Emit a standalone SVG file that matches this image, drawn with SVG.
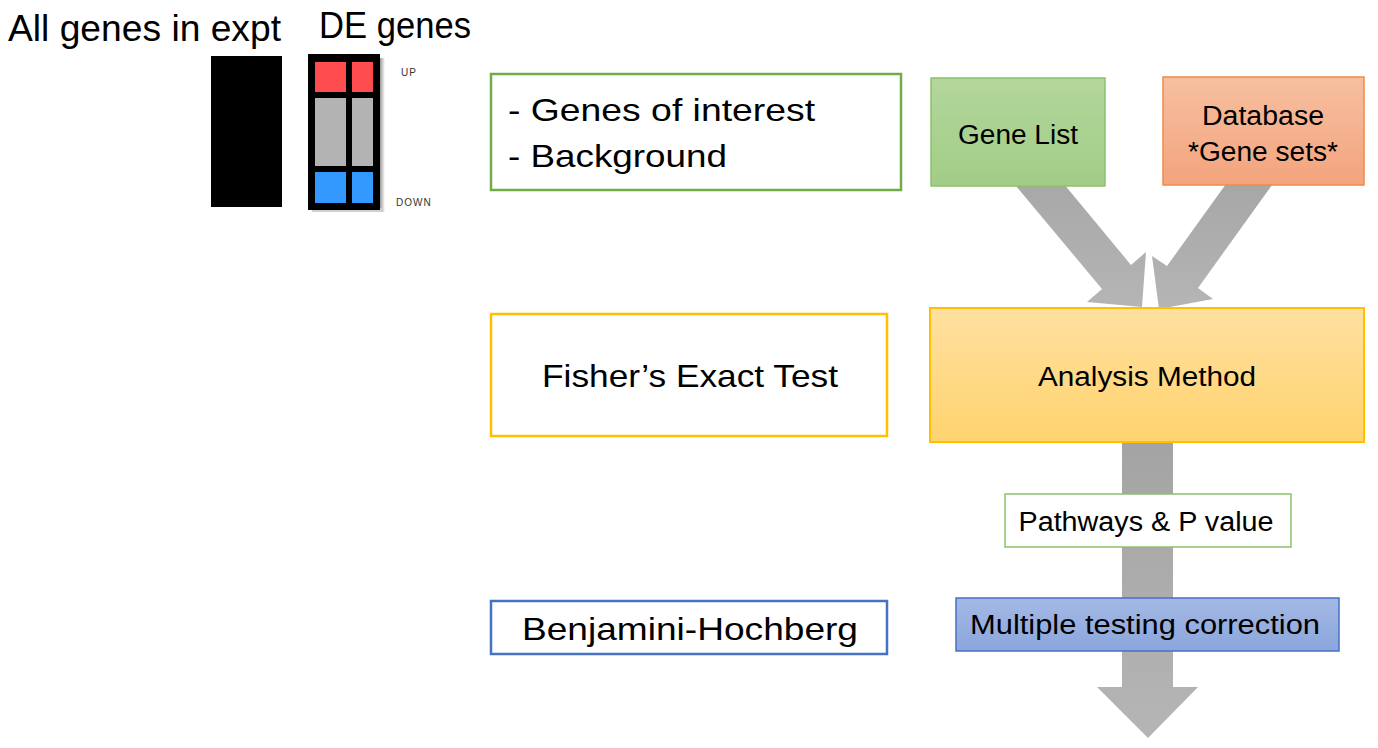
<svg xmlns="http://www.w3.org/2000/svg" width="1378" height="748" viewBox="0 0 1378 748">
<defs>
<linearGradient id="gGreen" x1="0" y1="0" x2="0" y2="1"><stop offset="0" stop-color="#b3d69c"/><stop offset="1" stop-color="#a2cd86"/></linearGradient>
<linearGradient id="gOrange" x1="0" y1="0" x2="0" y2="1"><stop offset="0" stop-color="#f7bfa0"/><stop offset="1" stop-color="#f3a47d"/></linearGradient>
<linearGradient id="gYellow" x1="0" y1="0" x2="0" y2="1"><stop offset="0" stop-color="#ffe0a0"/><stop offset="1" stop-color="#ffd36e"/></linearGradient>
<linearGradient id="gBlue" x1="0" y1="0" x2="0" y2="1"><stop offset="0" stop-color="#a4b9e4"/><stop offset="1" stop-color="#8ba6dc"/></linearGradient>
<linearGradient id="gGray" x1="0" y1="0" x2="0" y2="1"><stop offset="0" stop-color="#a3a3a3"/><stop offset="1" stop-color="#b5b5b5"/></linearGradient>
<linearGradient id="gShadow" x1="0" y1="0" x2="1" y2="0"><stop offset="0" stop-color="#9a9a9a"/><stop offset="1" stop-color="#ffffff"/></linearGradient>
</defs>
<style>
text{font-family:"Liberation Sans",Arial,sans-serif;fill:#000}
.title{font-size:36px}
.big{font-size:32px}
.mid{font-size:27px}
.tiny{font-size:10px;letter-spacing:1px;fill:#333}
.arrow{fill:url(#gGray)}
</style>
<rect width="1378" height="748" fill="#fff"/>

<g id="headers">
<text class="title" x="8" y="41" textLength="273" lengthAdjust="spacingAndGlyphs">All genes in expt</text>
<text class="title" x="319" y="38" textLength="152" lengthAdjust="spacingAndGlyphs">DE genes</text>
</g>

<g id="all-genes-bar">
<rect x="211" y="56" width="71" height="151" fill="#000"/>
</g>

<g id="de-genes-bar">
<rect x="380" y="58" width="5" height="154" fill="url(#gShadow)"/>
<rect x="312" y="208" width="70" height="4" fill="#cfcfcf"/>
<rect x="308" y="54" width="72" height="156" fill="#000"/>
<rect x="315" y="62" width="31" height="30" fill="#ff4d4f"/>
<rect x="352" y="62" width="21" height="30" fill="#ff4d4f"/>
<rect x="315" y="98" width="31" height="68" fill="#b3b3b3"/>
<rect x="352" y="98" width="21" height="68" fill="#b3b3b3"/>
<rect x="315" y="172" width="31" height="31" fill="#3399ff"/>
<rect x="352" y="172" width="21" height="31" fill="#3399ff"/>
<text class="tiny" x="401" y="76">UP</text>
<text class="tiny" x="396" y="206">DOWN</text>
</g>

<g id="connectors">
<polygon class="arrow" points="996,162 1025,137 1131,265 1146,252 1142,307 1087,302 1102,289"/>
<polygon class="arrow" points="1249,152 1167,266 1152,256 1159,309 1213,299 1198,288 1280,174"/>
<polygon class="arrow" points="1122,430 1173,430 1173,687 1198,687 1148,738 1097,687 1122,687"/>
</g>

<g id="genes-of-interest">
<rect x="491" y="74" width="410" height="116" fill="#fff" stroke="#70ad47" stroke-width="2.5"/>
<text class="big" x="508" y="121" textLength="307" lengthAdjust="spacingAndGlyphs">- Genes of interest</text>
<text class="big" x="508" y="167" textLength="219" lengthAdjust="spacingAndGlyphs">- Background</text>
</g>

<g id="fisher">
<rect x="491" y="314" width="396" height="122" fill="#fff" stroke="#ffc000" stroke-width="2.5"/>
<text class="big" x="690" y="387" text-anchor="middle" textLength="296" lengthAdjust="spacingAndGlyphs">Fisher’s Exact Test</text>
</g>

<g id="benjamini">
<rect x="491" y="601" width="396" height="53" fill="#fff" stroke="#4472c4" stroke-width="2.5"/>
<text class="big" x="690" y="640" text-anchor="middle" textLength="336" lengthAdjust="spacingAndGlyphs">Benjamini-Hochberg</text>
</g>

<g id="gene-list">
<rect x="931" y="78" width="174" height="108" fill="url(#gGreen)" stroke="#8cc16c" stroke-width="1.5"/>
<text class="mid" x="1018" y="144" text-anchor="middle" textLength="120" lengthAdjust="spacingAndGlyphs">Gene List</text>
</g>

<g id="database">
<rect x="1163" y="77" width="201" height="108" fill="url(#gOrange)" stroke="#f08a4b" stroke-width="1.5"/>
<text class="mid" x="1263" y="125" text-anchor="middle" textLength="122" lengthAdjust="spacingAndGlyphs">Database</text>
<text class="mid" x="1263" y="161" text-anchor="middle" textLength="150" lengthAdjust="spacingAndGlyphs">*Gene sets*</text>
</g>

<g id="analysis-method">
<rect x="930" y="308" width="434" height="134" fill="url(#gYellow)" stroke="#ffc000" stroke-width="2"/>
<text class="mid" x="1147" y="386" text-anchor="middle" textLength="218" lengthAdjust="spacingAndGlyphs">Analysis Method</text>
</g>

<g id="pathways">
<rect x="1005" y="494" width="286" height="53" fill="#fff" stroke="#8cc16c" stroke-width="1.5"/>
<text class="mid" x="1146" y="531" text-anchor="middle" textLength="255" lengthAdjust="spacingAndGlyphs">Pathways &amp; P value</text>
</g>

<g id="multiple-testing">
<rect x="956" y="598" width="383" height="53" fill="url(#gBlue)" stroke="#4472c4" stroke-width="1.5"/>
<text class="mid" x="1145" y="634" text-anchor="middle" textLength="350" lengthAdjust="spacingAndGlyphs">Multiple testing correction</text>
</g>
</svg>
